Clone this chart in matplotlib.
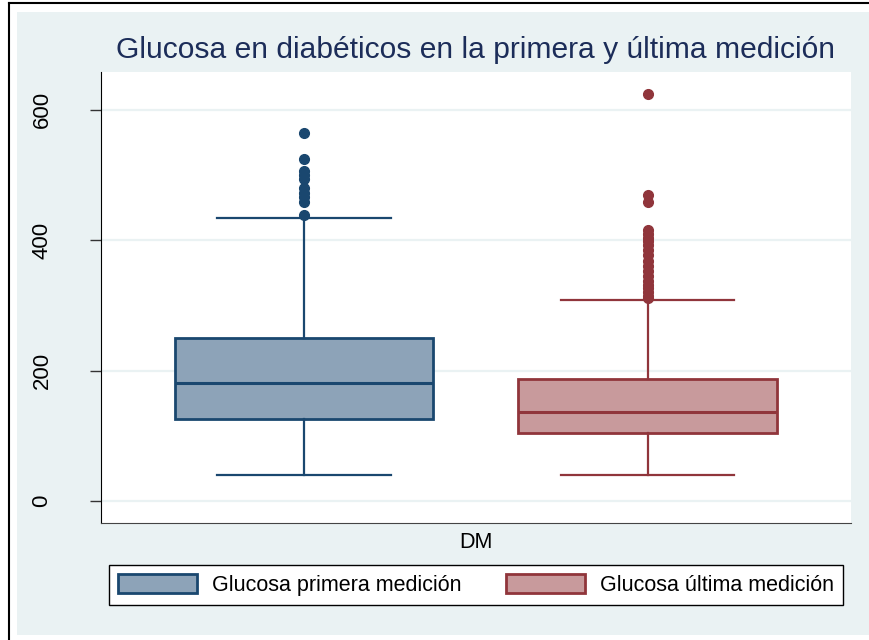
import matplotlib
matplotlib.use('Agg')
import matplotlib.pyplot as plt
from matplotlib.patches import Rectangle, Patch
from matplotlib.lines import Line2D

plt.rcParams['font.family'] = ['Liberation Sans', 'DejaVu Sans']

# datos
labels = ['Glucosa primera medición', 'Glucosa última medición']
q1 = [126, 104]
med = [181, 137]
q3 = [250, 187]
whislo = [40, 40]
whishi = [434, 308]
fliers_1 = [565, 525, 506, 500, 494, 480, 473, 467, 458, 439]
fliers_2 = [625, 470, 459, 416, 410, 404, 398, 392, 385, 377, 368, 360,
            352, 345, 338, 332, 326, 320, 315, 312]
fill_colors = ['#8DA3B8', '#C89A9C']
edge_colors = ['#1A476F', '#90353B']

stats = []
for i, fl in enumerate([fliers_1, fliers_2]):
    stats.append(dict(label=labels[i], q1=q1[i], med=med[i], q3=q3[i],
                      whislo=whislo[i], whishi=whishi[i], fliers=fl))

fig = plt.figure(figsize=(8.7, 6.4), dpi=100)
fig.patch.set_facecolor('white')

# fondo gris azulado tipo Stata
fig.patches.append(Rectangle((17 / 870, 1 - 635 / 640), 1, 623 / 640,
                             transform=fig.transFigure, facecolor='#EAF2F3',
                             edgecolor='none', zorder=-5))
fig.lines.append(Line2D([9 / 870, 9 / 870], [0, 1 - 3 / 640], transform=fig.transFigure,
                        color='black', lw=1.5))
fig.lines.append(Line2D([9 / 870, 1], [1 - 3 / 640, 1 - 3 / 640], transform=fig.transFigure,
                        color='black', lw=1.5))

ax = fig.add_axes([101 / 870, 1 - 523 / 640, 750 / 870, 451 / 640])
ax.set_zorder(2)
ax.set_facecolor('white')

positions = [0.2707, 0.729]
for i in range(2):
    ax.bxp([stats[i]], positions=[positions[i]], widths=0.345, capwidths=0.231,
           patch_artist=True, showfliers=True,
           boxprops=dict(facecolor=fill_colors[i], edgecolor=edge_colors[i], linewidth=2),
           medianprops=dict(color=edge_colors[i], linewidth=2.2),
           whiskerprops=dict(color=edge_colors[i], linewidth=1.6),
           capprops=dict(color=edge_colors[i], linewidth=1.6),
           flierprops=dict(marker='o', markerfacecolor=edge_colors[i],
                           markeredgecolor=edge_colors[i], markersize=7))

ax.set_xlim(0, 1)
ax.set_ylim(-33.8, 658)
ax.set_yticks([0, 200, 400, 600])
ax.set_yticklabels(['0', '200', '400', '600'], rotation=90, va='center', fontsize=16)
ax.set_xticks([])
ax.yaxis.grid(True, color='#EAF2F3', linewidth=1.6)
ax.set_axisbelow(True)
ax.tick_params(axis='y', length=8, width=1, pad=27, color='#333333')
for s in ['top', 'right']:
    ax.spines[s].set_visible(False)
ax.spines['left'].set_color('black')
ax.spines['bottom'].set_color('#444444')

fig.text(476 / 870, 1 - 50 / 640, 'Glucosa en diabéticos en la primera y última medición',
         ha='center', va='center', fontsize=21.6, color='#1C2D59')
fig.text(476 / 870, 1 - 543 / 640, 'DM', ha='center', va='center', fontsize=15.5)

handles = [Patch(facecolor=fill_colors[i], edgecolor=edge_colors[i], linewidth=2, label=labels[i])
           for i in range(2)]
leg = fig.legend(handles=handles, ncol=2, loc='center', fontsize=15.5,
                 bbox_to_anchor=(109 / 870, 1 - 605 / 640, 734 / 870, 40 / 640),
                 mode='expand', fancybox=False, edgecolor='black', framealpha=1,
                 handlelength=3.7, handleheight=1.0, handletextpad=0.7,
                 borderaxespad=0, borderpad=0.4)
leg.get_frame().set_linewidth(1)

fig.savefig('out.png', dpi=100)
